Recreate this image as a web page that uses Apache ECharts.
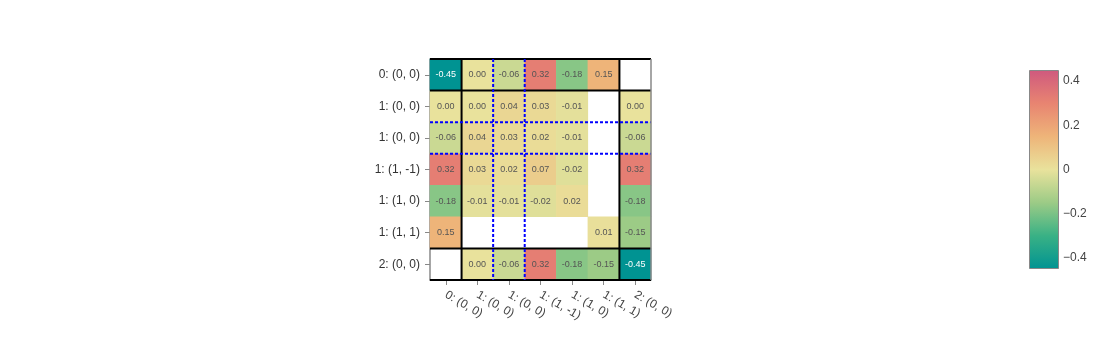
<!DOCTYPE html>
<html>
<head>
<meta charset="utf-8">
<script src="https://cdn.jsdelivr.net/npm/echarts@6/dist/echarts.min.js"></script>
<style>html,body{margin:0;padding:0;background:#fff}#c{width:1108px;height:360px}</style>
</head>
<body>
<div id="c"></div>
<script>
// Category labels (rows top -> bottom, columns left -> right)
const xLabels = ['0: (0, 0)', '1: (0, 0)', '1: (0, 0)', '1: (1, -1)', '1: (1, 0)', '1: (1, 1)', '2: (0, 0)'];
const yLabels = ['0: (0, 0)', '1: (0, 0)', '1: (0, 0)', '1: (1, -1)', '1: (1, 0)', '1: (1, 1)', '2: (0, 0)'];
// Matrix values, row by row (null = empty cell)
const row0 = [-0.45, 0.00, -0.06, 0.32, -0.18, 0.15, null];
const row1 = [0.00, 0.00, 0.04, 0.03, -0.01, null, 0.00];
const row2 = [-0.06, 0.04, 0.03, 0.02, -0.01, null, -0.06];
const row3 = [0.32, 0.03, 0.02, 0.07, -0.02, null, 0.32];
const row4 = [-0.18, -0.01, -0.01, -0.02, 0.02, null, -0.18];
const row5 = [0.15, null, null, null, null, 0.01, -0.15];
const row6 = [null, 0.00, -0.06, 0.32, -0.18, -0.15, -0.45];
const rows = [row0, row1, row2, row3, row4, row5, row6];
// Colour scale range and colourbar ticks
const cMin = -0.45, cMax = 0.45;
const cbTicks = [-0.4, -0.2, 0, 0.2, 0.4];
const temps = ['#009392', '#39b185', '#9ccb86', '#e9e29c', '#eeb479', '#e88471', '#cf597e'];
// Block separators (in cell-index units)
const blackV = [0.5, 5.5];
const blueV = [1.5, 2.5];
const blackH = [-0.5, 0.5, 5.5, 6.5];
const blueH = [1.5, 2.5];
const grayV = [6.5];

const heatData = [];
rows.forEach((r, j) => r.forEach((v, i) => {
  if (v !== null) {
    heatData.push({
      value: [i, j, v],
      label: { color: v <= -0.4 ? '#ffffff' : '#555555' }
    });
  }
}));

const seps = [];
blackH.forEach(p => seps.push({ o: 'h', p, s: 'black' }));
blackV.forEach(p => seps.push({ o: 'v', p, s: 'black' }));
blueV.forEach(p => seps.push({ o: 'v', p, s: 'blue' }));
blueH.forEach(p => seps.push({ o: 'h', p, s: 'blue' }));
grayV.forEach(p => seps.push({ o: 'v', p, s: 'gray' }));

const chart = echarts.init(document.getElementById('c'), null, { renderer: 'canvas' });
const font = 'Liberation Sans, Arial, sans-serif';
chart.setOption({
  animation: false,
  backgroundColor: '#ffffff',
  textStyle: { fontFamily: font },
  grid: [
    { left: 430, top: 59, width: 221, height: 221 },
    { left: 1029, top: 70, width: 30, height: 199 }
  ],
  xAxis: [
    {
      type: 'category', gridIndex: 0,
      data: xLabels.map((_, i) => String(i)),
      splitArea: { show: false },
      axisLine: { show: true, lineStyle: { color: '#888', width: 1.5 } },
      axisTick: { show: true, alignWithLabel: true, length: 5, lineStyle: { color: '#888' } },
      axisLabel: {
        rotate: -30, margin: 14, color: '#444', fontSize: 12, fontFamily: font,
        interval: 0, formatter: (v) => xLabels[+v]
      }
    },
    {
      type: 'category', gridIndex: 1, data: ['cb'], show: false
    }
  ],
  yAxis: [
    {
      type: 'category', gridIndex: 0, inverse: true,
      data: yLabels.map((_, i) => String(i)),
      axisLine: { show: true, lineStyle: { color: '#888', width: 1.5 } },
      axisTick: { show: true, alignWithLabel: true, length: 5, lineStyle: { color: '#888' } },
      axisLabel: {
        margin: 10, color: '#333', fontSize: 12, fontFamily: font,
        interval: 0, formatter: (v) => yLabels[+v]
      }
    },
    {
      type: 'value', gridIndex: 1, position: 'right', min: cMin, max: cMax,
      splitLine: { show: false },
      axisLine: { show: false },
      axisTick: { show: false },
      axisLabel: {
        customValues: cbTicks, margin: 4, color: '#444', fontSize: 12, fontFamily: font,
        formatter: (v) => {
          const r = Math.round(v * 10) / 10;
          return (r < 0 ? '\u2212' + Math.abs(r) : String(r));
        }
      }
    }
  ],
  visualMap: {
    show: false, type: 'continuous', min: cMin, max: cMax, seriesIndex: 0,
    inRange: { color: temps }
  },
  series: [
    {
      type: 'heatmap', xAxisIndex: 0, yAxisIndex: 0,
      data: heatData,
      label: {
        show: true, fontSize: 9, fontFamily: font,
        formatter: (p) => p.value[2].toFixed(2)
      },
      itemStyle: { borderWidth: 0 },
      emphasis: { disabled: true }
    },
    {
      type: 'custom', xAxisIndex: 0, yAxisIndex: 0, z: 5, silent: true,
      data: seps.map(() => [0, 0]),
      renderItem: (params, api) => {
        const s = seps[params.dataIndex];
        const c0 = api.coord([0, 0]);
        const c1 = api.coord([1, 1]);
        const dx = c1[0] - c0[0], dy = c1[1] - c0[1];
        const cs = params.coordSys;
        const style = s.s === 'black' ? { stroke: '#000', lineWidth: 2 }
          : s.s === 'blue' ? { stroke: '#0000ff', lineWidth: 2, lineDash: [3, 2] }
          : { stroke: '#888', lineWidth: 1.5 };
        let shape;
        if (s.o === 'v') {
          const x = c0[0] + s.p * dx;
          shape = { x1: x, y1: cs.y, x2: x, y2: cs.y + cs.height };
        } else {
          const y = c0[1] + s.p * dy;
          shape = { x1: cs.x, y1: y, x2: cs.x + cs.width, y2: y };
        }
        return { type: 'line', shape, style };
      }
    },
    {
      type: 'custom', xAxisIndex: 1, yAxisIndex: 1, silent: true,
      data: [[0, cMin, cMax]],
      renderItem: (params, api) => {
        const lo = api.coord([0, api.value(1)]);
        const hi = api.coord([0, api.value(2)]);
        const w = api.size([1, 0])[0];
        const stops = temps.map((c, i) => ({ offset: i / (temps.length - 1), color: c }));
        return {
          type: 'rect',
          shape: { x: lo[0] - w / 2 + 0.5, y: hi[1] + 0.5, width: w - 1, height: lo[1] - hi[1] - 1 },
          style: {
            fill: { type: 'linear', x: 0, y: 1, x2: 0, y2: 0, colorStops: stops },
            stroke: '#888', lineWidth: 1
          }
        };
      }
    }
  ]
});
</script>
</body>
</html>
